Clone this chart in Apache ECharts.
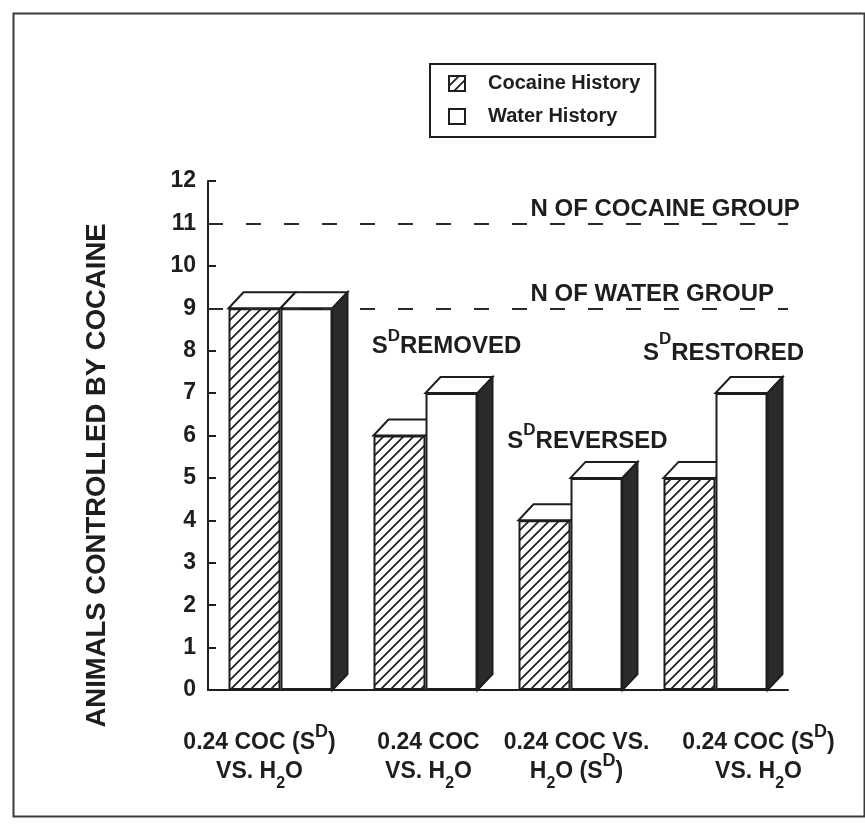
<!DOCTYPE html>
<html>
<head>
<meta charset="utf-8">
<script src="https://cdn.jsdelivr.net/npm/echarts@6/dist/echarts.min.js"></script>
<style>
html,body{margin:0;padding:0;background:#fff;}
#c{width:865px;height:826px;}
</style>
</head>
<body>
<div id="c"></div>
<script>
// ---------------- data ----------------
const categories = [
  '0.24 COC (S{sup|D})\nVS. H{sub|2}O',
  '0.24 COC\nVS. H{sub|2}O',
  '0.24 COC VS.\nH{sub|2}O (S{sup|D})',
  '0.24 COC (S{sup|D})\nVS. H{sub|2}O'
];
const seriesNames = ['Cocaine History', 'Water History'];
const cocaineHistory = [9, 6, 4, 5];
const waterHistory = [9, 7, 5, 7];
const yMin = 0, yMax = 12, yStep = 1;
const groupSizes = [11, 9];
const groupLabels = ['N OF COCAINE GROUP', 'N OF WATER GROUP'];
const conditionLabels = ['REMOVED', 'REVERSED', 'RESTORED'];
const conditionCategory = [1, 2, 3];
const conditionLevel = [8.10, 5.87, 7.93];
const yTitle = 'ANIMALS CONTROLLED BY COCAINE';

// ---------------- style / layout ----------------
const INK = '#1e1e1e';
const FONT = '"Liberation Sans", Arial, Helvetica, sans-serif';
const BAR_W = 52, DEPTH_X = 15, DEPTH_Y = 16;
const xLabelShift = [-21, 3, 6, 43];

function hatchPattern() {
  const s = 10, cv = document.createElement('canvas');
  cv.width = s; cv.height = s;
  const g = cv.getContext('2d');
  g.fillStyle = '#fff'; g.fillRect(0, 0, s, s);
  g.strokeStyle = INK; g.lineWidth = 1.7;
  g.beginPath();
  g.moveTo(-1, s + 1); g.lineTo(s + 1, -1);
  g.moveTo(-2, 2); g.lineTo(2, -2);
  g.moveTo(s - 2, s + 2); g.lineTo(s + 2, s - 2);
  g.stroke();
  return cv;
}
const hatch = { image: hatchPattern(), repeat: 'repeat' };

const supSub = {
  sup: { fontSize: 18, fontWeight: 'bold', fontFamily: FONT, color: INK, height: 8, verticalAlign: 'top' },
  sub: { fontSize: 16, fontWeight: 'bold', fontFamily: FONT, color: INK, height: 4, verticalAlign: 'bottom' }
};

const noteRich = {
  s: { fontSize: 24, fontWeight: 'bold', fontFamily: FONT, fill: INK, lineHeight: 30 },
  t: { fontSize: 24, fontWeight: 'bold', fontFamily: FONT, fill: INK, lineHeight: 30 },
  d: { fontSize: 17, fontWeight: 'bold', fontFamily: FONT, fill: INK, height: 9, verticalAlign: 'top' },
  d2: { fontSize: 17, fontWeight: 'bold', fontFamily: FONT, fill: INK, height: 2, verticalAlign: 'top' }
};

const notes = [];
groupLabels.forEach((t, k) => notes.push({ cat: 2, val: groupSizes[k], text: t, dx: -40, dy: -2, align: 'left', va: 'bottom', size: 24 }));
const condDx = [21, 17, 8];
conditionLabels.forEach((t, k) => notes.push({
  cat: conditionCategory[k], val: conditionLevel[k],
  text: '{s|S}{' + (k === 2 ? 'd2' : 'd') + '|D}{t|' + t + '}',
  dx: condDx[k], dy: 0, align: 'center', va: 'middle', size: 24
}));

const chart = echarts.init(document.getElementById('c'), null, { renderer: 'canvas' });

const option = {
  animation: false,
  backgroundColor: '#fff',
  graphic: [{
    type: 'rect', left: 11, top: 11, silent: true,
    shape: { width: 851, height: 803 },
    style: { fill: 'none', stroke: '#3a3a3a', lineWidth: 2 }
  }],
  legend: {
    orient: 'vertical', left: 430, top: 64,
    data: seriesNames, icon: 'rect',
    itemWidth: 16, itemHeight: 15, itemGap: 12,
    padding: [9, 15, 10, 18],
    borderColor: INK, borderWidth: 2, backgroundColor: '#fff',
    selectedMode: false,
    textStyle: { fontSize: 20, fontWeight: 'bold', fontFamily: FONT, color: INK, lineHeight: 21, padding: [0, 0, 0, 18] }
  },
  grid: { left: 208, top: 181, width: 580, height: 509, containLabel: false, outerBoundsMode: 'none' },
  xAxis: {
    type: 'category',
    data: categories.map((c, i) => ({
      value: c,
      textStyle: { padding: xLabelShift[i] >= 0 ? [0, 0, 0, 2 * xLabelShift[i]] : [0, -2 * xLabelShift[i], 0, 0] }
    })),
    axisLine: { lineStyle: { color: INK, width: 2 } },
    axisTick: { show: false },
    axisLabel: {
      interval: 0, margin: 38, color: INK, fontSize: 23, fontWeight: 'bold', fontFamily: FONT,
      lineHeight: 29, align: 'center', rich: supSub
    },
    splitLine: { show: false }
  },
  yAxis: {
    type: 'value', min: yMin, max: yMax, interval: yStep,
    name: yTitle, nameLocation: 'middle', nameRotate: 90, nameGap: 97,
    nameTextStyle: { fontSize: 27.5, fontWeight: 'bold', fontFamily: FONT, color: INK, padding: [0, 80, 0, 0] },
    axisLine: { show: true, lineStyle: { color: INK, width: 2 } },
    axisTick: { show: true, inside: true, length: 8, lineStyle: { color: INK, width: 2 } },
    axisLabel: { margin: 12, color: INK, fontSize: 23, fontWeight: 'bold', fontFamily: FONT },
    splitLine: { show: false }
  },
  series: [
    {
      type: 'line', name: 'groups', z: 0, silent: true,
      data: categories.map(() => null), showSymbol: false,
      markLine: {
        silent: true, symbol: 'none', animation: false,
        label: { show: false },
        lineStyle: { color: '#2a2a2a', width: 2, type: [15, 23] },
        data: groupSizes.map(v => ({ yAxis: v }))
      }
    },
    {
      type: 'custom', name: 'depth', z: 1, silent: true, clip: false,
      data: categories.map((_, i) => [i, cocaineHistory[i], waterHistory[i]]),
      encode: { x: 0, y: [1, 2] },
      renderItem(params, api) {
        const i = api.value(0);
        const base = api.coord([i, 0]);
        const cx = base[0], yb = base[1];
        const yc = api.coord([i, api.value(1)])[1];
        const yw = api.coord([i, api.value(2)])[1];
        const x0 = cx - BAR_W, x1 = cx, x2 = cx + BAR_W;
        const st = { stroke: INK, lineWidth: 2, lineJoin: 'miter' };
        return {
          type: 'group',
          children: [
            { type: 'polygon', shape: { points: [[x0, yc], [x1, yc], [x1 + DEPTH_X, yc - DEPTH_Y], [x0 + DEPTH_X, yc - DEPTH_Y]] },
              style: Object.assign({ fill: '#fff' }, st) },
            { type: 'polygon', shape: { points: [[x1, yw], [x2, yw], [x2 + DEPTH_X, yw - DEPTH_Y], [x1 + DEPTH_X, yw - DEPTH_Y]] },
              style: Object.assign({ fill: '#fff' }, st) },
            { type: 'polygon', shape: { points: [[x2, yw], [x2 + DEPTH_X, yw - DEPTH_Y], [x2 + DEPTH_X, yb - DEPTH_Y], [x2, yb]] },
              style: Object.assign({ fill: '#2b2b2b' }, st) }
          ]
        };
      }
    },
    {
      type: 'bar', name: seriesNames[0], z: 2, data: cocaineHistory,
      barWidth: BAR_W, barGap: '0%',
      itemStyle: { color: hatch, borderColor: INK, borderWidth: 2 }
    },
    {
      type: 'bar', name: seriesNames[1], z: 2, data: waterHistory,
      barWidth: BAR_W, barGap: '0%',
      itemStyle: { color: '#fff', borderColor: INK, borderWidth: 2 }
    },
    {
      type: 'custom', name: 'notes', z: 3, silent: true, clip: false,
      data: notes.map(n => [n.cat, n.val]),
      encode: { x: 0, y: 1 },
      renderItem(params, api) {
        const n = notes[params.dataIndex];
        const p = api.coord([api.value(0), api.value(1)]);
        return {
          type: 'text', x: p[0] + n.dx, y: p[1] + n.dy,
          style: {
            text: n.text, rich: noteRich,
            fontSize: n.size, fontWeight: 'bold', fontFamily: FONT, fill: INK,
            align: n.align, verticalAlign: n.va
          }
        };
      }
    }
  ]
};
chart.setOption(option);
</script>
</body>
</html>
